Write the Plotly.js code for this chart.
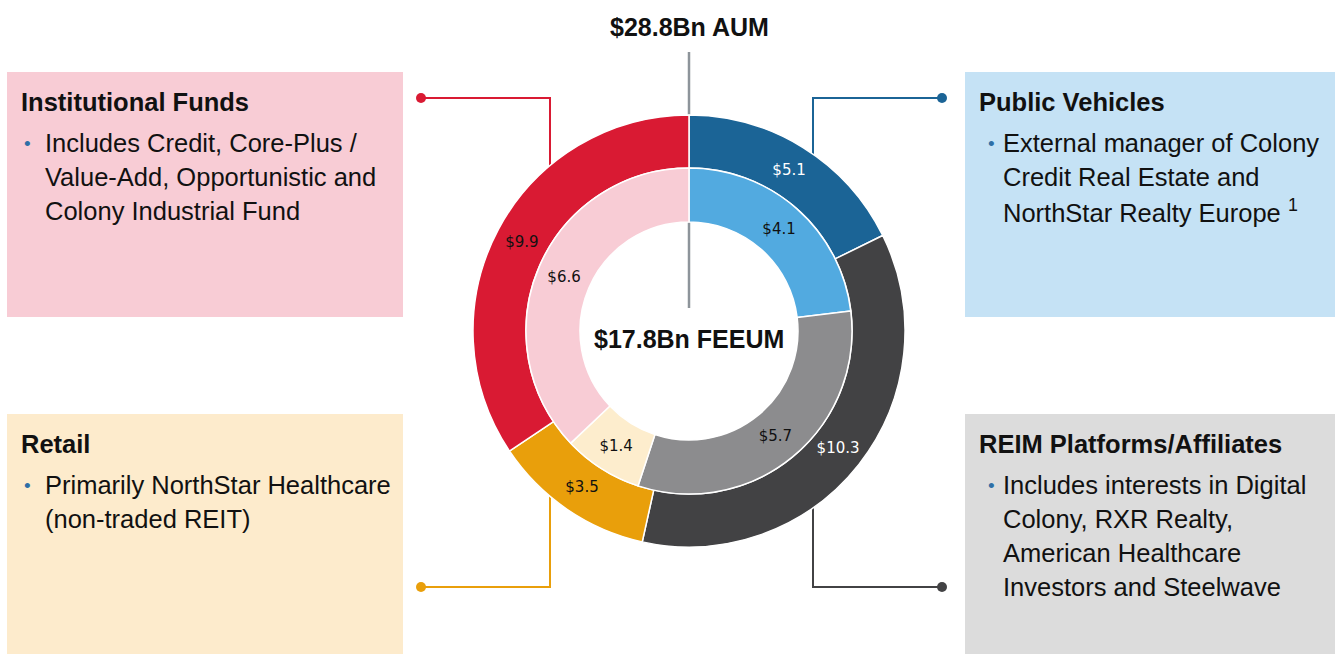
<!DOCTYPE html>
<html>
<head>
<meta charset="utf-8">
<script src="https://cdn.plot.ly/plotly-3.0.1.min.js"></script>
<style>
html,body{margin:0;padding:0;background:#fff;}
#chart{width:1335px;height:654px;}
</style>
</head>
<body>
<div id="chart"></div>
<script>
// ---- data ----
const segments = ['Public Vehicles', 'REIM Platforms/Affiliates', 'Retail', 'Institutional Funds'];
const aumValues = [5.1, 10.3, 3.5, 9.9];      // outer ring ($Bn AUM)
const feeumValues = [4.1, 5.7, 1.4, 6.6];     // inner ring ($Bn FEEUM)
const outerColors = ['#1b6496', '#424244', '#e99f0b', '#d91a33'];
const innerColors = ['#52aae0', '#8c8c8e', '#fdedcd', '#f8ccd5'];
const outerTextColors = ['#ffffff', '#ffffff', '#111111', '#111111'];
const innerTextColors = ['#111111', '#111111', '#111111', '#111111'];
const aumTitle = '$28.8Bn AUM';
const feeumTitle = '$17.8Bn FEEUM';
const boxTitles = ['Institutional Funds', 'Public Vehicles', 'Retail', 'REIM Platforms/Affiliates'];
const boxLines = [
  ['Includes Credit, Core-Plus /', 'Value-Add, Opportunistic and', 'Colony Industrial Fund'],
  ['External manager of Colony', 'Credit Real Estate and', 'NorthStar Realty Europe <sup>1</sup>'],
  ['Primarily NorthStar Healthcare', '(non-traded REIT)'],
  ['Includes interests in Digital', 'Colony, RXR Realty,', 'American Healthcare', 'Investors and Steelwave']
];
const boxFills = ['#f8ccd5', '#c5e2f5', '#fdebcc', '#dcdcdc'];
const connectorColors = ['#d91a33', '#1b6496', '#e99f0b', '#424244'];

// ---- layout helpers (pixel -> paper) ----
const W = 1335, H = 654;
const px = x => x / W;
const py = y => 1 - y / H;
const cx = 689, cy = 331, R1 = 216, R2 = 163, R3 = 109;

const traces = [
  {
    type: 'pie', values: aumValues, labels: segments, sort: false, direction: 'clockwise', rotation: 0,
    hole: R2 / R1,
    domain: {x: [px(cx - R1), px(cx + R1)], y: [py(cy + R1), py(cy - R1)]},
    marker: {colors: outerColors, line: {color: '#ffffff', width: 1.5}},
    texttemplate: '$%{value}', textposition: 'inside', insidetextorientation: 'horizontal',
    textfont: {family: 'DejaVu Sans', size: 15, color: outerTextColors},
    hoverinfo: 'none', showlegend: false
  },
  {
    type: 'pie', values: feeumValues, labels: segments, sort: false, direction: 'clockwise', rotation: 0,
    hole: R3 / R2,
    domain: {x: [px(cx - R2), px(cx + R2)], y: [py(cy + R2), py(cy - R2)]},
    marker: {colors: innerColors, line: {color: '#ffffff', width: 1.5}},
    texttemplate: '$%{value}', textposition: 'inside', insidetextorientation: 'horizontal',
    textfont: {family: 'DejaVu Sans', size: 15, color: innerTextColors},
    hoverinfo: 'none', showlegend: false
  }
];

// boxes: [x0, y0, x1, y1]
const boxRects = [[7, 72, 403, 317], [965, 72, 1335, 317], [7, 414, 403, 654], [965, 414, 1335, 654]];
const shapes = [];
boxRects.forEach((b, i) => {
  shapes.push({type: 'rect', xref: 'paper', yref: 'paper', layer: 'below',
    x0: px(b[0]), x1: px(b[2]), y0: py(b[3]), y1: py(b[1]),
    fillcolor: boxFills[i], line: {width: 0}});
});
// vertical grey line from the AUM title into the hole
shapes.push({type: 'line', xref: 'paper', yref: 'paper', layer: 'below',
  x0: px(cx), x1: px(cx), y0: py(52), y1: py(308), line: {color: '#8d949a', width: 2.5}});
// connectors: [dotX, dotY, elbowX, endY]
const connectors = [[421, 98, 550, 200], [942, 98, 813, 200], [421, 587, 550, 480], [942, 587, 813, 480]];
connectors.forEach((c, i) => {
  const col = connectorColors[i];
  shapes.push({type: 'path', xref: 'paper', yref: 'paper', layer: 'below',
    path: `M ${px(c[0])} ${py(c[1])} L ${px(c[2])} ${py(c[1])} L ${px(c[2])} ${py(c[3])}`,
    line: {color: col, width: 2}});
  const r = 5;
  shapes.push({type: 'circle', xref: 'paper', yref: 'paper', layer: 'above',
    x0: px(c[0] - r), x1: px(c[0] + r), y0: py(c[1] + r), y1: py(c[1] - r),
    fillcolor: col, line: {width: 0}});
});

const annotations = [];
annotations.push({xref: 'paper', yref: 'paper', x: px(cx), y: py(27), xanchor: 'center', yanchor: 'middle',
  text: '<b>' + aumTitle + '</b>', showarrow: false, font: {family: 'Liberation Sans, Arial', size: 25, color: '#111'}});
annotations.push({xref: 'paper', yref: 'paper', x: px(cx), y: py(339), xanchor: 'center', yanchor: 'middle',
  text: '<b>' + feeumTitle + '</b>', showarrow: false, font: {family: 'Liberation Sans, Arial', size: 25, color: '#111'}});

// text anchor positions per box: [headerX, headerY, bulletX, textX, firstLineY]
const textPos = [[19, 102, 27, 43, 143], [977, 102, 991, 1001, 143], [19, 444, 27, 43, 485], [977, 444, 991, 1001, 485]];
const lineGap = 34;
boxTitles.forEach((t, i) => {
  const p = textPos[i];
  annotations.push({xref: 'paper', yref: 'paper', x: px(p[0]), y: py(p[1]), xanchor: 'left', yanchor: 'middle',
    text: '<b>' + t + '</b>', showarrow: false, font: {family: 'Liberation Sans, Arial', size: 25.5, color: '#111'}});
  annotations.push({xref: 'paper', yref: 'paper', x: px(p[2]), y: py(p[4]), xanchor: 'center', yanchor: 'middle',
    text: '•', showarrow: false, font: {family: 'Liberation Sans, Arial', size: 19, color: '#2e6fa6'}});
  boxLines[i].forEach((ln, j) => {
    annotations.push({xref: 'paper', yref: 'paper', x: px(p[3]), y: py(p[4] + j * lineGap), xanchor: 'left', yanchor: 'middle',
      text: ln, showarrow: false, font: {family: 'Liberation Sans, Arial', size: 25.5, color: '#111'}});
  });
});

const layout = {
  width: W, height: H, margin: {l: 0, r: 0, t: 0, b: 0},
  paper_bgcolor: '#ffffff', plot_bgcolor: '#ffffff',
  showlegend: false, shapes: shapes, annotations: annotations
};
Plotly.newPlot('chart', traces, layout, {displayModeBar: false, staticPlot: true});
</script>
</body>
</html>
